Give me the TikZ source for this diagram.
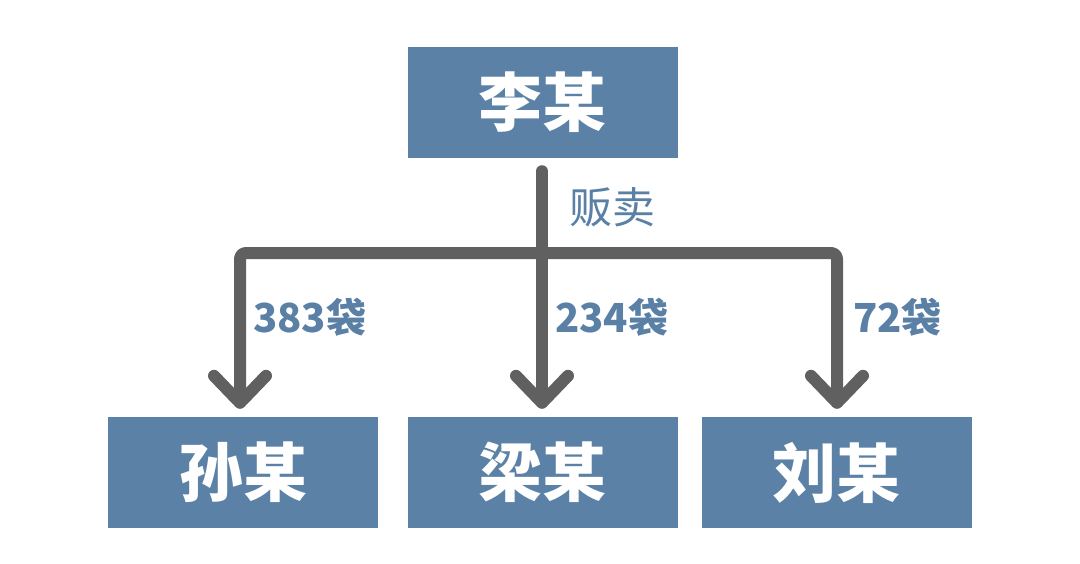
\documentclass[tikz,border=0pt]{standalone}
\usepackage{fontspec}
\setmainfont{Noto Sans CJK SC}
\usetikzlibrary{arrows.meta}
\definecolor{boxblue}{HTML}{5B82A6}
\definecolor{labblue}{HTML}{5A80A6}
\definecolor{linegray}{HTML}{606060}
\tikzset{
  person/.style={fill=boxblue, text=white, minimum width=270pt, minimum height=111pt, inner sep=0pt, font=\fontsize{64}{70}\selectfont\bfseries},
  flow/.style={draw=linegray, line width=12pt, line cap=round, line join=round},
  chev/.style={-{Straight Barb[length=27pt,width=52pt,line cap=round,line join=round]}},
  qty/.style={text=labblue, anchor=west, inner sep=0pt, font=\fontsize{40}{44}\selectfont\bfseries},
  verb/.style={text=labblue, anchor=west, inner sep=0pt, font=\fontsize{43}{46}\selectfont}
}
\begin{document}
\begin{tikzpicture}[x=1pt,y=-1pt]
\useasboundingbox (0,0) rectangle (1080,563);
\node[person] (li) at (542.5,102.5) {李某};
\node[person] (sun) at (243,472.5) {孙某};
\node[person] (liang) at (542.5,472.5) {梁某};
\node[person] (liu) at (836.5,472.5) {刘某};
\coordinate (j) at (542,253);
\draw[flow,chev,shorten <=13pt,shorten >=8pt] (li.south -| j) -- (liang.north -| j);
\draw[flow,chev,rounded corners=6pt,shorten >=8pt] (j) -| (sun.north -| 240,0);
\draw[flow,chev,rounded corners=6pt,shorten >=8pt] (j) -| (liu.north -| 837,0);
\node[verb] (sell) at (569,207) {贩卖};
\node[qty] (q1) at (253,317) {383袋};
\node[qty] (q2) at (555,317) {234袋};
\node[qty] (q3) at (853,317) {72袋};
\end{tikzpicture}
\end{document}
